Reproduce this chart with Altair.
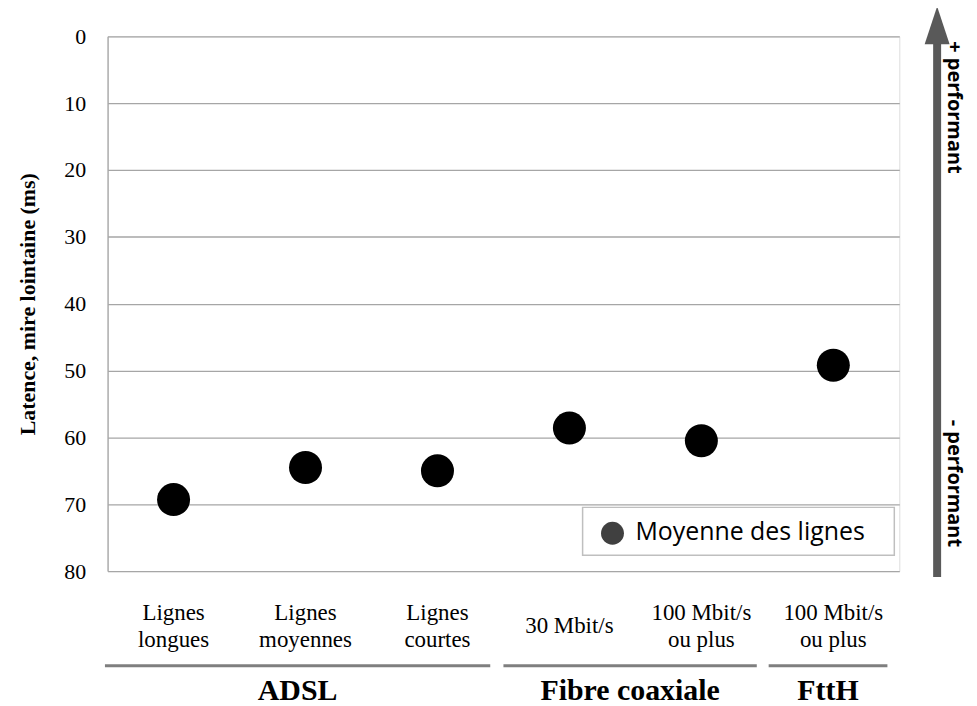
import altair as alt
import pandas as pd

# ---- data ----
categories = ["Lignes\nlongues", "Lignes\nmoyennes", "Lignes\ncourtes",
              "30 Mbit/s", "100 Mbit/s\nou plus", "100 Mbit/s\nou plus"]
latence = [69.3, 64.5, 65.0, 58.6, 60.5, 49.2]
groups = ["ADSL", "Fibre coaxiale", "FttH"]
group_start = [-0.02, 3.0, 5.01]
group_end = [2.9, 4.92, 5.91]
y_ticks = [0, 10, 20, 30, 40, 50, 60, 70, 80]
legend_label = "Moyenne des lignes"
arrow_labels = ["+ performant", "- performant"]

W, H = 795, 537
SERIF = "Liberation Serif"
SANS = "Open Sans"

pos = [i + 0.5 for i in range(len(categories))]
df = pd.DataFrame({"cat": categories, "pos": pos, "latence": latence})
df2 = df[df["cat"].str.contains("\n")]
df1 = df[~df["cat"].str.contains("\n")]
gdf = pd.DataFrame({"group": groups, "start": group_start, "end": group_end,
                    "mid": [(a + b) / 2 for a, b in zip(group_start, group_end)]})
one = pd.DataFrame({"k": [0]})

xscale = alt.Scale(domain=[0, 6], nice=False, zero=False)

points = alt.Chart(df).mark_point(filled=True, color="black", size=1100, opacity=1).encode(
    x=alt.X("pos:Q", scale=xscale, axis=None),
    y=alt.Y("latence:Q",
            scale=alt.Scale(domain=[0, 80], reverse=True, nice=False),
            axis=alt.Axis(values=y_ticks, grid=True, gridColor="#a6a6a6", gridWidth=1.3,
                          ticks=False, domainColor="#a6a6a6", domainWidth=1.3,
                          labelFont=SERIF, labelFontSize=22, labelColor="black",
                          labelPadding=22,
                          title="Latence, mire lointaine (ms)", titleFont=SERIF,
                          titleFontSize=22, titleFontWeight="bold", titleColor="black",
                          titlePadding=24)),
)

cat_text2 = alt.Chart(df2).mark_text(font=SERIF, fontSize=23, color="black",
                                     lineBreak="\n", baseline="middle", lineHeight=27).encode(
    x=alt.X("pos:Q", scale=xscale, axis=None),
    y=alt.value(H + 42),
    text="cat:N",
)
cat_text1 = alt.Chart(df1).mark_text(font=SERIF, fontSize=23, color="black",
                                     baseline="middle").encode(
    x=alt.X("pos:Q", scale=xscale, axis=None),
    y=alt.value(H + 55),
    text="cat:N",
)

group_rules = alt.Chart(gdf).mark_rule(color="#7f7f7f", strokeWidth=3).encode(
    x=alt.X("start:Q", scale=xscale, axis=None),
    x2="end:Q",
    y=alt.value(H + 95),
)

group_text = alt.Chart(gdf).mark_text(font=SERIF, fontSize=30, fontWeight="bold",
                                      color="black", baseline="middle").encode(
    x=alt.X("mid:Q", scale=xscale, axis=None),
    y=alt.value(H + 120),
    text="group:N",
)

legend_box = alt.Chart(one).mark_rect(fill="white", stroke="#bfbfbf", strokeWidth=1.5).encode(
    x=alt.value(477), x2=alt.value(790), y=alt.value(473), y2=alt.value(521)
)
legend_dot = alt.Chart(one).mark_point(filled=True, color="#404040", size=530, opacity=1).encode(
    x=alt.value(507), y=alt.value(499)
)
legend_text = alt.Chart(pd.DataFrame({"t": [legend_label]})).mark_text(
    font=SANS, fontSize=25, color="black", align="left", baseline="middle").encode(
    x=alt.value(530), y=alt.value(498), text="t:N"
)

arrow_shaft = alt.Chart(one).mark_rule(color="#595959", strokeWidth=8).encode(
    x=alt.value(833), y=alt.value(0), y2=alt.value(543)
)
arrow_head = alt.Chart(one).mark_point(
    filled=True, color="#595959", opacity=1, size=1444,
    shape="M0,-1 L0.66,1 L-0.66,1 Z").encode(
    x=alt.value(833), y=alt.value(-11)
)
arrow_text = alt.Chart(pd.DataFrame({"t": arrow_labels, "yy": [5, 385]})).mark_text(
    font=SANS, fontSize=20, fontWeight="bold", color="black", angle=90,
    align="left", baseline="middle").encode(
    x=alt.value(850), y=alt.Y("yy:Q", scale=None, axis=None), text="t:N"
)

chart = alt.layer(points, cat_text2, cat_text1, group_rules, group_text, legend_box,
                  legend_dot, legend_text, arrow_shaft, arrow_head, arrow_text).properties(
    width=W, height=H,
    autosize=alt.AutoSizeParams(type="none"),
    padding={"left": 100, "top": 27, "right": 70, "bottom": 133},
).configure_view(stroke=None).configure(background="white")

chart.save("out.html", embed_options={"renderer": "svg", "actions": False})
